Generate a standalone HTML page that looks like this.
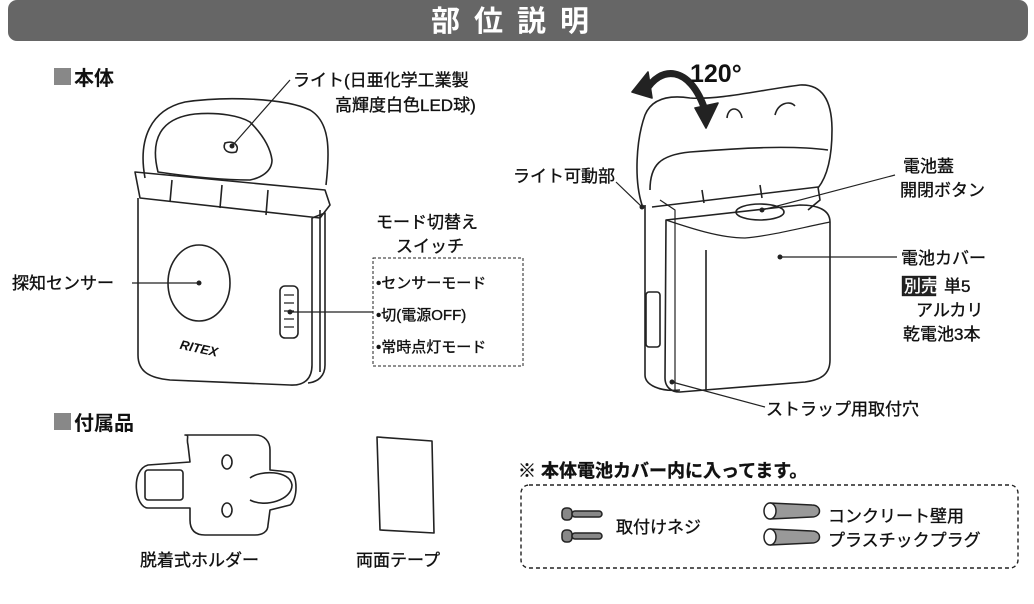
<!DOCTYPE html>
<html><head><meta charset="utf-8"><style>
body{margin:0;background:#fff;}
svg{display:block;}
text{font-family:"Liberation Sans","Noto Sans CJK JP",sans-serif;fill:#111;}
.w{stroke:#111;stroke-width:0.35;}
</style></head><body>
<svg width="1034" height="604" viewBox="0 0 1034 604" xmlns="http://www.w3.org/2000/svg">
<rect x="8" y="0" width="1020" height="41" rx="9" fill="#666"/>
<text x="517" y="31" font-size="29" font-weight="bold" text-anchor="middle" letter-spacing="14" style="fill:#fff">部位説明</text>

<rect x="54" y="68" width="17" height="17" fill="#888"/>
<text x="74" y="85" font-size="20" font-weight="bold">本体</text>
<rect x="54" y="413" width="17" height="17" fill="#888"/>
<text x="74" y="430" font-size="20" font-weight="bold">付属品</text>

<g fill="none" stroke="#222" stroke-width="1.6" stroke-linejoin="round">
<!-- left device -->
<path d="M145,178 C138,140 150,110 185,102 C225,96 285,98 310,110 C330,122 330,150 326,185"/>
<path d="M158,172 C150,140 160,118 195,114 C220,112 240,116 250,122 C260,132 270,145 272,160 C272,172 260,178 250,180 C220,180 185,176 158,172 Z"/>
<path d="M135,172 L325,190 L330,205 L320,218 L140,198 Z"/>
<path d="M172,180 L170,202 M222,185 L220,208 M268,190 L266,215"/>
<path d="M138,198 L138,355 C138,372 150,378 170,380 L290,385 C305,386 312,378 312,365 L312,218"/>
<path d="M312,218 L325,213 L325,365 C325,376 318,382 308,383"/>
<path d="M320,210 L320,372"/>
<ellipse cx="199" cy="283" rx="31" ry="38"/>
<rect x="280" y="286" width="18" height="52" rx="5"/>
<path d="M284,295 h10 M284,303 h10 M284,311 h10 M284,319 h10 M284,327 h10" stroke-width="1.2"/>
<path d="M225,143 C222,150 228,154 236,152 C240,146 234,140 225,143 Z"/>
<!-- right device -->
<path d="M642,205 C634,180 636,140 645,115 C652,98 670,95 690,98 C720,100 760,90 800,85 C822,84 832,100 832,130 C832,160 826,178 818,188"/>
<path d="M650,190 C650,165 660,155 690,152 C740,148 790,145 828,150"/>
<path d="M652,207 L818,187 L820,200 L808,210"/>
<path d="M702,190 L704,203 M760,185 L762,198"/>
<path d="M645,205 L645,375 C645,385 660,392 680,390"/>
<path d="M666,220 L800,205 C818,205 830,210 830,222 L830,360 C830,375 820,380 805,382 L680,392 C670,392 665,386 665,378 Z"/>
<path d="M706,250 L706,390"/>
<path d="M666,220 C690,228 720,238 745,238 C770,236 800,228 830,222" stroke-width="1.2"/>
<ellipse cx="760" cy="212" rx="24" ry="8"/>
<path d="M727,118 C728,106 740,106 742,118 M775,115 C778,103 790,100 795,106"/>
<rect x="646" y="292" width="14" height="55" rx="3"/>
<path d="M660,200 L675,210 L675,390" stroke-width="1.2"/>
<!-- curved arrow -->
<path d="M645,92 C660,65 690,65 705,110" stroke-width="7"/>
<path d="M632,92 L648,72 L652,98 Z M695,108 L718,103 L706,128 Z" fill="#222"/>
<!-- holder -->
<path d="M185,435 L255,435 C265,435 270,442 270,450 L270,470 L290,472 C298,474 298,500 290,505 L270,510 L268,525 C268,532 262,535 255,535 L205,535 C195,535 190,530 190,520 L190,508 L148,508 C135,508 130,470 148,465 L190,462 L188,445 C186,438 190,435 185,435 Z"/>
<rect x="145" y="470" width="38" height="30" rx="3"/>
<ellipse cx="227" cy="462" rx="5" ry="7"/>
<ellipse cx="227" cy="510" rx="5" ry="7"/>
<path d="M250,478 C260,470 290,470 292,485 C292,500 265,508 250,500"/>
<path d="M377,437 L432,441 L434,533 L380,530 Z"/>
<!-- leaders -->
<g stroke-width="1.2">
<path d="M232,146 L290,80"/>
<path d="M132,283 L199,283"/>
<path d="M290,312 L373,312"/>
<path d="M616,182 L642,207"/>
<path d="M762,210 L895,175"/>
<path d="M780,257 L897,257"/>
<path d="M672,382 L765,407"/>
</g>
<rect x="373" y="258" width="150" height="108" stroke-width="1" stroke-dasharray="3,2"/>
<rect x="521" y="485" width="497" height="83" rx="8" stroke-width="1.4" stroke-dasharray="4,3"/>
<!-- screws -->
<g stroke-width="1.5">
<rect x="562" y="508" width="10" height="12" rx="4" fill="#888"/><rect x="572" y="511" width="30" height="6" rx="3" fill="#888"/>
<rect x="562" y="530" width="10" height="12" rx="4" fill="#888"/><rect x="572" y="533" width="30" height="6" rx="3" fill="#888"/>
<path d="M770,503 L812,505 C822,505 822,517 812,517 L770,519 Z" fill="#999"/><ellipse cx="770" cy="511" rx="6" ry="8" fill="#fff"/>
<path d="M770,529 L812,531 C822,531 822,543 812,543 L770,545 Z" fill="#999"/><ellipse cx="770" cy="537" rx="6" ry="8" fill="#fff"/>
</g>
</g>
<g fill="#222"><circle cx="232" cy="146" r="2.5"/><circle cx="199" cy="283" r="2.5"/><circle cx="290" cy="312" r="2.5"/><circle cx="642" cy="207" r="2.5"/><circle cx="762" cy="210" r="2.5"/><circle cx="780" cy="257" r="2.5"/><circle cx="672" cy="382" r="2.5"/></g>
<text x="180" y="352" font-size="13" font-weight="bold" font-style="italic" transform="rotate(12 195 347)">RITEX</text>

<g font-size="17" class="w">
<text x="293" y="86">ライト(日亜化学工業製</text>
<text x="335" y="111">高輝度白色LED球)</text>
<text x="12" y="289">探知センサー</text>
<text x="376" y="228">モード切替え</text>
<text x="396" y="252">スイッチ</text>
<text x="376" y="288" font-size="15">•センサーモード</text>
<text x="376" y="320" font-size="15">•切(電源OFF)</text>
<text x="376" y="352" font-size="15">•常時点灯モード</text>
<text x="513" y="182">ライト可動部</text>
<text x="903" y="172">電池蓋</text>
<text x="900" y="196">開閉ボタン</text>
<text x="901" y="264">電池カバー</text>
<rect x="902" y="276" width="34" height="20" fill="#222"/>
<text x="904" y="292" style="fill:#fff;stroke:#fff">別売</text>
<text x="944" y="292">単5</text>
<text x="916" y="316">アルカリ</text>
<text x="903" y="340">乾電池3本</text>
<text x="766" y="415">ストラップ用取付穴</text>
<text x="140" y="566">脱着式ホルダー</text>
<text x="356" y="566">両面テープ</text>
<text x="518" y="477" font-weight="bold" font-size="18">※ 本体電池カバー内に入ってます。</text>
<text x="616" y="533">取付けネジ</text>
<text x="828" y="522">コンクリート壁用</text>
<text x="828" y="546">プラスチックプラグ</text>
</g>
<text x="690" y="82" font-size="25" font-weight="bold">120°</text>
</svg>
</body></html>
